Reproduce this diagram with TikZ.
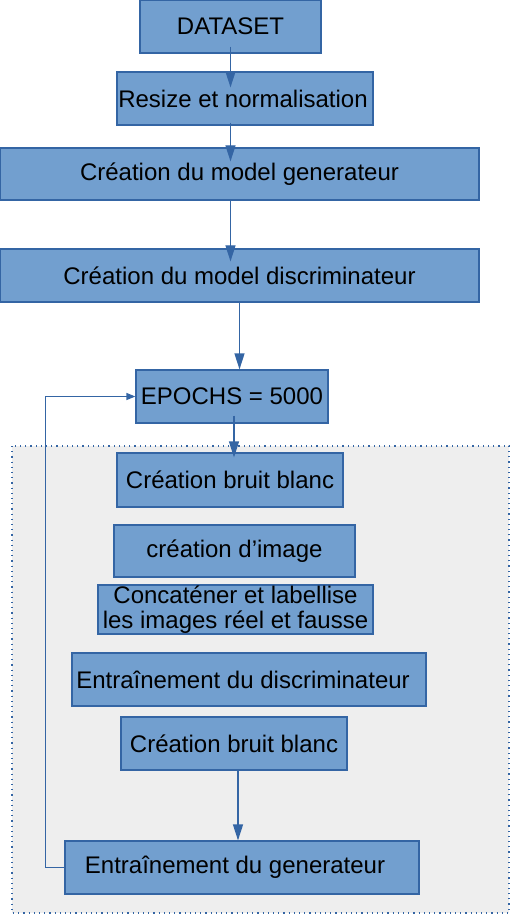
\documentclass[tikz,border=0pt]{standalone}
\usepackage{fontspec}
\setmainfont{Liberation Sans}
\usepackage{tikz}
\usetikzlibrary{arrows.meta,positioning,calc}
\definecolor{boxfill}{HTML}{729FCF}
\definecolor{boxline}{HTML}{3465A4}
\definecolor{loopfill}{HTML}{EEEEEE}
\begin{document}
\begin{tikzpicture}[
    x=0.5pt, y=-0.5pt,
    box/.style={draw=boxline, fill=boxfill, line width=0.6pt, inner sep=0pt, align=center, font=\fontsize{12}{12.5}\selectfont},
    arr/.style={-{Triangle[length=8pt,width=5pt]}, draw=boxline, line width=0.6pt},
    back/.style={-{Triangle[length=4.5pt,width=3.5pt]}, draw=boxline, line width=0.6pt}
]
\useasboundingbox (0,0) rectangle (510,914);
% zone de la boucle
\draw[boxline, fill=loopfill, dotted, line width=0.6pt] (12,446) rectangle (509,913);

\node[box, minimum width=90.5pt, minimum height=26.5pt] (dataset) at (230.5,26.5) {DATASET};
\node[box, minimum width=128pt, minimum height=26.5pt] (resize) at (245,98.5) {Resize et normalisation\hspace*{2pt}};
\node[box, minimum width=239.5pt, minimum height=26pt] (gen) at (239.5,174) {Création du model generateur};
\node[box, minimum width=239.5pt, minimum height=26.5pt] (disc) at (239.5,275.5) {Création du model discriminateur};
\node[box, minimum width=96pt, minimum height=26.5pt] (epochs) at (232,396.5) {EPOCHS = 5000};

\node[box, minimum width=113pt, minimum height=27pt] (bruit1) at (230,480) {Création bruit blanc};
\node[box, minimum width=120.5pt, minimum height=26pt] (image) at (234.5,551) {création d\symbol{39}image};
\node[box, minimum width=137.5pt, minimum height=24.5pt] (concat) at (235.5,609.5) {Concaténer et labellise\\les images réel et fausse};
\node[box, minimum width=177pt, minimum height=26.5pt] (trdisc) at (249,679.5) {Entraînement du discriminateur\hspace*{6pt}};
\node[box, minimum width=113pt, minimum height=26.5pt] (bruit2) at (234,743.5) {Création bruit blanc};
\node[box, minimum width=177pt, minimum height=26.5pt] (trgen) at (242,867.5) {Entraînement du generateur\hspace*{7pt}};

\draw[arr, shorten <=-3.5pt, shorten >=-8pt] (dataset.south) -- (dataset.south |- resize.north);
\draw[arr, shorten <=-1.5pt, shorten >=-7pt] (dataset.south |- resize.south) -- (dataset.south |- gen.north);
\draw[arr, shorten >=-6.5pt] (dataset.south |- gen.south) -- (dataset.south |- disc.north);
\draw[arr] (disc.south) -- (disc.south |- epochs.north);
\draw[arr, shorten <=-4pt, shorten >=-2.5pt] ([xshift=1pt]epochs.south) -- ([xshift=1pt]epochs.south |- bruit1.north);
\draw[arr] ([xshift=2pt]bruit2.south) -- ([xshift=2pt]bruit2.south |- trgen.north);
\draw[back] (trgen.west) -- ++(-19,0) |- (epochs.west);
\end{tikzpicture}
\end{document}
